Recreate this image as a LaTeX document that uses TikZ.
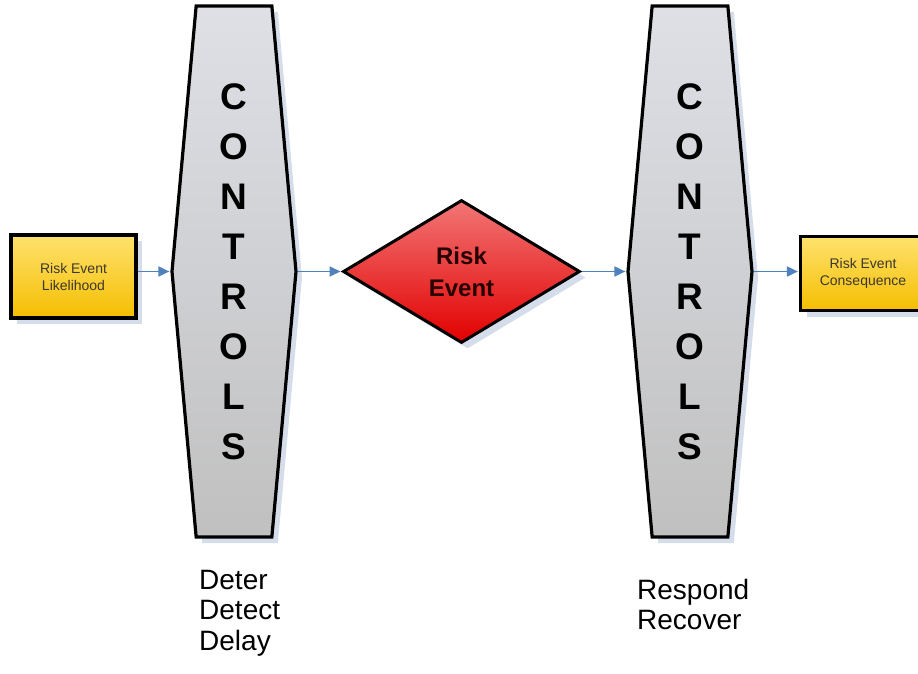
\documentclass[tikz,border=0pt]{standalone}
\usepackage{fontspec}
\setmainfont{Liberation Sans}
\usetikzlibrary{positioning,shapes.geometric,shapes.symbols,shadows,arrows.meta}

\definecolor{flowblue}{RGB}{79,129,189}
\definecolor{shadowc}{RGB}{214,221,234}
\definecolor{ctrltop}{RGB}{222,224,230}
\definecolor{ctrlbot}{RGB}{192,192,192}
\definecolor{boxtop}{RGB}{255,226,110}
\definecolor{boxbot}{RGB}{244,190,0}
\definecolor{evtop}{RGB}{242,118,118}
\definecolor{evbot}{RGB}{226,0,0}
\definecolor{boxtext}{RGB}{60,55,45}

\tikzset{
  softshadow/.style={drop shadow={shadow xshift=6pt,shadow yshift=-6pt,fill=shadowc,opacity=1}},
  ctrl/.style={signal,signal to=east and west,signal pointer angle=169.6,
    draw,line width=3.2pt,top color=ctrltop,bottom color=ctrlbot,softshadow,
    minimum width=124pt,minimum height=531pt,inner sep=0pt,align=center,
    font=\fontsize{37}{50}\selectfont\bfseries},
  riskbox/.style={rectangle,draw,line width=3.2pt,top color=boxtop,bottom color=boxbot,
    softshadow,minimum width=125pt,inner sep=0pt,align=center,text=boxtext,
    font=\fontsize{14}{17}\selectfont},
  event/.style={diamond,draw,line width=3pt,top color=evtop,bottom color=evbot,
    softshadow,minimum width=237pt,minimum height=143pt,inner sep=0pt,align=center,
    text=black!85!red,font=\fontsize{24}{32}\selectfont\bfseries},
  stage/.style={inner sep=0pt,align=left,anchor=north west,
    font=\fontsize{28}{30.5}\selectfont},
  flow/.style={draw=flowblue,line width=1.8pt,-{Triangle[length=11pt,width=10pt]},
    shorten >=1pt}
}

\begin{document}
\begin{tikzpicture}[x=1pt,y=-1pt,on grid]
\useasboundingbox (0,0) rectangle (918,674);

\node[ctrl] (ctrlA) at (234,271.5) {C\\O\\N\\T\\R\\O\\L\\S};
\node[riskbox,minimum height=83pt] (likely) [left=160.5pt of ctrlA,yshift=-5pt] {Risk Event\\Likelihood};
\node[event] (risk) [right=227.5pt of ctrlA] {Risk\\Event};
\node[ctrl] (ctrlB) [right=228.5pt of risk] {C\\O\\N\\T\\R\\O\\L\\S};
\node[riskbox,minimum height=74pt] (conseq) [right=173pt of ctrlB,yshift=-2pt] {Risk Event\\Consequence};

\node[stage] (before) at (199,570) {Deter\\Detect\\Delay};
\node[stage] (after) at (637,579) {Respond\\Recover};

\path[flow] (likely.east |- ctrlA.west) -- (ctrlA.west);
\path[flow] (ctrlA.east) -- (risk.west);
\path[flow] (risk.east) -- (ctrlB.west);
\path[flow] (ctrlB.east) -- (conseq.west |- ctrlB.east);
\end{tikzpicture}
\end{document}
